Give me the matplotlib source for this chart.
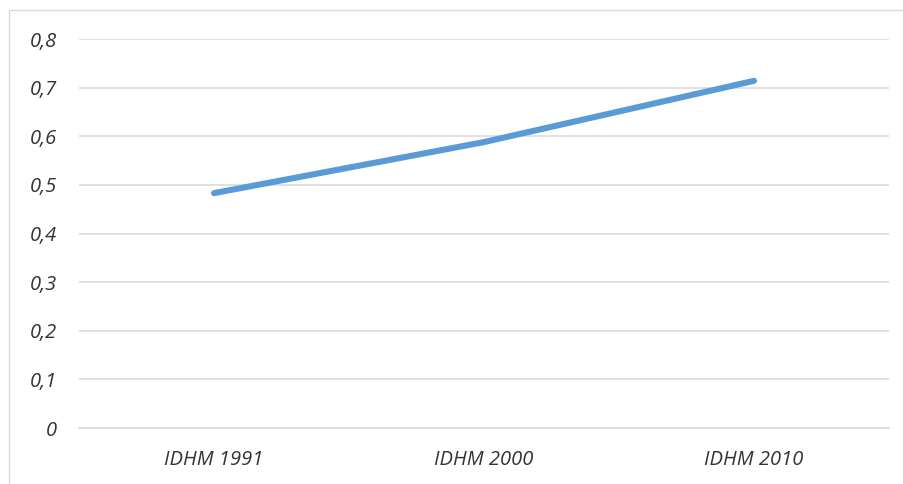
import matplotlib.pyplot as plt
from matplotlib.patches import Rectangle
from matplotlib.ticker import FuncFormatter

# IDHM por ano de censo
categorias = ["IDHM 1991", "IDHM 2000", "IDHM 2010"]
idhm = [0.483, 0.588, 0.714]
yticks = [0, 0.1, 0.2, 0.3, 0.4, 0.5, 0.6, 0.7, 0.8]

plt.rcParams['font.family'] = ['Open Sans', 'DejaVu Sans']

fig = plt.figure(figsize=(9.04, 4.84), dpi=100)
W, H = 904, 484

# moldura do grafico (cortada a direita e embaixo)
fig.patches.append(Rectangle((9 / W, -0.1), 1.2, 1 - 10 / H + 0.1,
                             transform=fig.transFigure, fill=False,
                             edgecolor="#D9D9D9", linewidth=1.0))

ax = fig.add_axes([79 / W, 1 - 428 / H, (889 - 79) / W, (428 - 39) / H])

x = range(len(categorias))
ax.plot(x, idhm, color="#5B9BD5", linewidth=4.4, solid_capstyle="round", zorder=3)

ax.set_xlim(-0.5, len(categorias) - 0.5)
ax.set_ylim(0, 0.8)
ax.set_yticks(yticks)
ax.yaxis.set_major_formatter(FuncFormatter(lambda v, p: ("%g" % round(v, 1)).replace(".", ",")))
ax.set_xticks(list(x))
ax.set_xticklabels(categorias)

ax.grid(axis="y", color="#D9D9D9", linewidth=1.1)
ax.set_axisbelow(True)
for s in ax.spines.values():
    s.set_visible(False)
ax.spines["bottom"].set_visible(True)
ax.spines["bottom"].set_color("#D9D9D9")
ax.spines["bottom"].set_linewidth(1.1)

ax.tick_params(axis="both", length=0, labelsize=14.5, labelcolor="#333333")
ax.tick_params(axis="y", pad=16)
ax.tick_params(axis="x", pad=16)
for lbl in ax.get_xticklabels() + ax.get_yticklabels():
    lbl.set_fontstyle("italic")

fig.savefig("out.png", dpi=100, facecolor="white")
